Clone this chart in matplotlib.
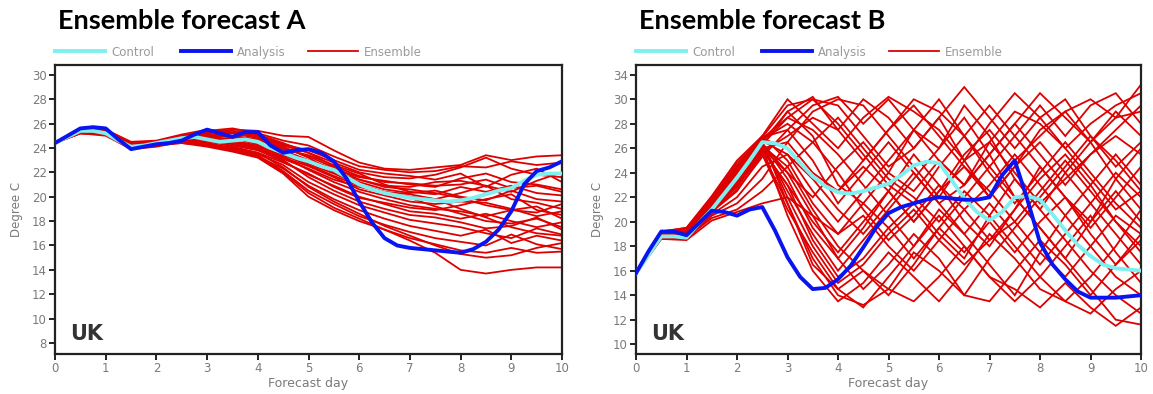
import matplotlib
matplotlib.use("Agg")
import matplotlib.pyplot as plt
import numpy as np

# ---------------- data ----------------
days_fine = [i * 0.25 for i in range(41)]
days_ens = [i * 0.5 for i in range(21)]

analysis_A = [24.4, 25.0, 25.6, 25.7, 25.6, 24.7, 23.9, 24.1, 24.3, 24.4, 24.6, 25.1, 25.5,
              25.2, 24.9, 25.3, 25.3, 24.2, 23.6, 23.8, 23.9, 23.6, 22.9, 21.5, 19.6, 17.9,
              16.6, 16.0, 15.8, 15.7, 15.6, 15.5, 15.4, 15.7, 16.3, 17.3, 18.8, 21.0, 22.1,
              22.4, 22.9]
control_A = [24.4, 24.9, 25.4, 25.4, 25.2, 24.6, 24.1, 24.2, 24.4, 24.6, 24.8, 24.9, 24.7,
             24.5, 24.6, 24.7, 24.5, 24.0, 23.6, 23.2, 22.9, 22.5, 22.2, 21.6, 21.0, 20.6,
             20.3, 20.1, 19.9, 19.8, 19.7, 19.6, 19.7, 19.9, 20.2, 20.5, 20.7, 21.3, 21.8,
             21.9, 21.9]

ens_A_01 = [24.4, 25.3, 25.4, 24.3, 24.4, 24.9, 25.3, 25.5, 25.4, 25.0, 24.9, 23.8, 22.8, 22.3, 22.2, 22.4, 22.6, 23.4, 23.0, 23.3, 23.4]
ens_A_02 = [24.4, 25.4, 25.3, 24.2, 24.5, 25.0, 25.4, 25.6, 25.2, 24.6, 24.2, 23.3, 22.5, 22.2, 22.0, 22.1, 22.5, 22.4, 22.9, 22.6, 22.8]
ens_A_03 = [24.4, 25.2, 25.1, 24.1, 24.3, 24.8, 25.0, 25.2, 24.9, 24.2, 23.6, 22.8, 22.0, 21.6, 21.5, 21.8, 22.4, 23.2, 22.3, 21.8, 21.6]
ens_A_04 = [24.4, 25.3, 25.2, 24.0, 24.2, 24.7, 24.9, 24.7, 24.5, 23.8, 23.0, 22.3, 21.6, 21.3, 21.0, 20.8, 21.5, 21.9, 21.2, 21.0, 20.6]
ens_A_05 = [24.4, 25.5, 25.4, 24.4, 24.5, 24.9, 25.1, 24.9, 24.6, 23.9, 23.4, 22.6, 21.9, 21.0, 20.4, 20.2, 20.8, 20.4, 20.9, 20.3, 20.1]
ens_A_06 = [24.4, 25.3, 25.3, 24.3, 24.4, 24.6, 24.7, 24.8, 24.3, 23.6, 22.9, 22.1, 21.2, 20.6, 20.3, 20.5, 20.0, 19.7, 20.5, 19.8, 19.6]
ens_A_07 = [24.4, 25.4, 25.5, 24.5, 24.6, 25.1, 25.5, 25.2, 24.8, 24.1, 23.2, 22.0, 21.4, 20.8, 20.6, 20.3, 19.9, 19.3, 18.9, 18.7, 19.4]
ens_A_08 = [24.4, 25.2, 25.0, 23.9, 24.1, 24.5, 24.6, 24.4, 24.0, 23.2, 22.5, 21.6, 20.6, 20.1, 19.6, 19.4, 19.6, 19.5, 19.0, 18.4, 18.8]
ens_A_09 = [24.4, 25.3, 25.2, 24.2, 24.3, 24.8, 25.0, 24.6, 24.2, 23.3, 22.2, 21.2, 20.4, 19.8, 19.3, 19.0, 18.8, 18.4, 18.9, 19.2, 18.2]
ens_A_10 = [24.4, 25.5, 25.4, 24.3, 24.4, 24.6, 24.5, 24.2, 23.8, 22.9, 21.8, 20.9, 20.0, 19.4, 18.8, 18.6, 18.2, 18.6, 18.0, 17.5, 17.9]
ens_A_11 = [24.4, 25.4, 25.3, 24.1, 24.3, 24.7, 24.8, 24.5, 24.0, 23.0, 21.6, 20.5, 19.6, 19.0, 18.5, 18.3, 17.9, 17.4, 17.6, 18.3, 17.3]
ens_A_12 = [24.4, 25.3, 25.1, 24.0, 24.2, 24.5, 24.3, 24.0, 23.5, 22.6, 21.2, 20.2, 19.3, 18.7, 18.1, 17.8, 17.5, 17.0, 16.6, 17.4, 16.9]
ens_A_13 = [24.4, 25.2, 25.2, 24.2, 24.3, 24.4, 24.2, 23.8, 23.3, 22.3, 20.9, 19.8, 18.9, 18.2, 17.6, 17.2, 16.8, 17.3, 16.2, 16.8, 16.4]
ens_A_14 = [24.4, 25.4, 25.4, 24.3, 24.4, 24.6, 24.4, 23.9, 23.4, 22.1, 20.5, 19.4, 18.4, 17.7, 17.1, 16.6, 16.3, 16.0, 16.9, 16.1, 15.7]
ens_A_15 = [24.4, 25.3, 25.2, 24.1, 24.2, 24.4, 24.1, 23.7, 23.2, 21.9, 20.0, 18.9, 18.0, 17.3, 16.6, 16.1, 15.6, 15.4, 15.8, 15.4, 15.5]
ens_A_16 = [24.4, 25.4, 25.3, 24.3, 24.4, 24.7, 24.6, 24.1, 23.6, 22.4, 20.8, 19.6, 18.6, 17.6, 16.8, 16.0, 15.3, 15.0, 15.2, 15.8, 16.2]
ens_A_17 = [24.4, 25.3, 25.2, 24.2, 24.3, 24.5, 24.3, 23.8, 23.3, 22.0, 20.3, 19.1, 18.2, 17.3, 16.4, 15.4, 14.0, 13.7, 14.0, 14.2, 14.2]
ens_A_18 = [24.4, 25.4, 25.3, 24.3, 24.5, 24.9, 25.2, 25.3, 25.0, 24.3, 23.8, 23.0, 22.2, 21.9, 21.7, 21.4, 21.9, 20.8, 21.8, 22.3, 21.2]
ens_A_19 = [24.4, 25.3, 25.4, 24.4, 24.5, 24.8, 24.9, 25.0, 24.7, 24.0, 23.3, 22.4, 21.4, 20.9, 20.8, 21.2, 21.3, 20.9, 20.4, 21.3, 22.0]
ens_A_20 = [24.4, 25.2, 25.1, 24.1, 24.3, 24.6, 24.7, 24.3, 23.9, 23.1, 22.3, 21.4, 20.8, 20.3, 20.0, 19.8, 20.3, 20.9, 19.8, 19.5, 19.0]
ens_A_21 = [24.4, 25.3, 25.2, 24.2, 24.3, 24.5, 24.4, 24.0, 23.6, 22.8, 21.9, 20.8, 19.9, 19.5, 19.1, 18.9, 19.3, 19.8, 20.2, 18.9, 18.5]
ens_A_22 = [24.4, 25.4, 25.3, 24.2, 24.4, 24.7, 24.8, 24.6, 24.1, 23.4, 22.6, 21.7, 20.9, 20.4, 19.9, 19.2, 18.6, 18.0, 17.8, 18.2, 17.5]
ens_A_23 = [24.4, 25.3, 25.3, 24.3, 24.4, 24.8, 25.0, 24.9, 24.5, 23.7, 22.7, 21.9, 21.0, 20.4, 20.2, 19.8, 19.0, 18.3, 17.5, 17.0, 16.8]
ens_A_24 = [24.4, 25.5, 25.5, 24.4, 24.5, 24.9, 25.3, 25.4, 25.1, 24.4, 23.6, 22.5, 21.7, 21.2, 21.1, 20.9, 21.0, 21.4, 20.7, 20.9, 20.4]

analysis_B = [15.8, 17.6, 19.2, 19.2, 18.9, 19.9, 20.9, 20.8, 20.5, 21.0, 21.2, 19.3, 17.1,
              15.5, 14.5, 14.6, 15.3, 16.4, 17.9, 19.5, 20.7, 21.2, 21.5, 21.8, 22.0, 21.9,
              21.8, 21.8, 22.0, 23.8, 25.0, 21.8, 18.3, 16.5, 15.3, 14.3, 13.8, 13.8, 13.8,
              13.9, 14.0]
control_B = [15.8, 17.3, 18.8, 18.8, 18.7, 19.9, 21.0, 22.3, 23.6, 25.0, 26.5, 26.4, 26.0,
             24.8, 23.7, 22.9, 22.4, 22.3, 22.5, 22.8, 23.1, 23.8, 24.6, 24.9, 24.8, 23.4,
             21.9, 20.8, 20.1, 20.8, 22.0, 22.1, 21.8, 20.6, 19.3, 18.1, 17.2, 16.5, 16.2,
             16.1, 16.0]

ens_B_01 = [15.8, 19.0, 19.2, 21.5, 24.0, 26.8, 28.5, 30.0, 29.5, 27.0, 24.5, 26.0, 28.5, 25.0, 22.0, 24.5, 27.5, 29.0, 30.0, 28.5, 31.2]
ens_B_02 = [15.8, 18.9, 19.0, 21.2, 23.5, 26.5, 29.0, 27.0, 23.0, 21.5, 24.0, 27.5, 26.0, 29.5, 27.0, 23.5, 21.0, 24.0, 26.5, 29.0, 27.0]
ens_B_03 = [15.8, 19.1, 19.4, 21.8, 24.5, 27.0, 30.0, 28.0, 26.0, 28.5, 30.2, 29.0, 27.5, 25.0, 26.5, 29.0, 28.0, 26.0, 23.5, 21.0, 22.5]
ens_B_04 = [15.8, 18.8, 18.9, 21.0, 23.0, 26.0, 24.0, 20.5, 17.0, 19.5, 22.5, 25.5, 23.0, 20.0, 18.0, 21.0, 24.5, 22.0, 19.0, 16.5, 18.5]
ens_B_05 = [15.8, 19.0, 19.3, 21.4, 23.8, 26.3, 22.5, 19.0, 16.0, 18.5, 21.0, 23.5, 26.0, 28.5, 25.5, 22.0, 19.5, 17.0, 20.0, 23.5, 26.0]
ens_B_06 = [15.8, 18.7, 18.8, 20.8, 22.5, 25.5, 21.0, 17.5, 14.5, 13.0, 15.5, 18.0, 21.0, 19.0, 16.5, 14.0, 17.5, 20.5, 23.0, 20.0, 17.5]
ens_B_07 = [15.8, 19.2, 19.5, 22.0, 24.8, 26.9, 27.5, 25.0, 21.5, 24.0, 26.5, 24.0, 21.5, 23.0, 25.5, 28.0, 25.5, 23.0, 25.5, 27.5, 29.5]
ens_B_08 = [15.8, 18.9, 19.1, 21.3, 23.2, 25.8, 23.0, 18.5, 15.5, 17.0, 19.5, 21.5, 19.0, 17.0, 20.5, 23.5, 21.0, 18.5, 16.0, 14.0, 12.5]
ens_B_09 = [15.8, 19.0, 19.2, 21.6, 24.2, 26.6, 25.5, 22.5, 20.0, 22.5, 25.0, 27.5, 30.0, 27.0, 24.0, 21.5, 24.0, 26.5, 24.0, 21.5, 19.5]
ens_B_10 = [15.8, 18.6, 18.6, 20.5, 21.5, 23.5, 26.5, 29.0, 30.0, 29.5, 27.0, 24.5, 22.0, 25.0, 28.0, 30.5, 28.5, 26.0, 28.0, 29.5, 30.5]
ens_B_11 = [15.8, 18.8, 19.0, 21.1, 23.0, 26.1, 20.5, 16.0, 13.5, 15.0, 17.5, 15.5, 13.5, 16.0, 19.0, 17.0, 14.5, 13.5, 15.5, 18.0, 21.0]
ens_B_12 = [15.8, 19.1, 19.3, 21.7, 24.4, 26.7, 28.0, 26.5, 24.0, 21.0, 18.5, 20.5, 23.0, 21.0, 18.5, 20.0, 22.5, 25.0, 22.5, 20.0, 18.0]
ens_B_13 = [15.8, 18.9, 19.1, 21.2, 23.3, 26.2, 24.5, 21.0, 18.0, 16.0, 14.0, 16.5, 19.5, 22.0, 24.5, 22.0, 19.5, 17.0, 14.5, 12.0, 11.6]
ens_B_14 = [15.8, 19.0, 19.4, 21.9, 24.6, 26.9, 29.5, 30.0, 28.0, 25.5, 23.0, 21.5, 24.5, 27.0, 29.5, 27.0, 24.5, 22.0, 19.5, 22.0, 24.5]
ens_B_15 = [15.8, 18.7, 18.8, 20.6, 22.0, 24.5, 25.5, 23.5, 21.0, 19.0, 21.5, 24.0, 21.5, 19.0, 21.5, 19.0, 16.5, 19.0, 21.5, 24.0, 22.0]
ens_B_16 = [15.8, 19.0, 19.2, 21.5, 23.7, 26.4, 23.5, 19.5, 17.0, 14.5, 16.5, 19.0, 17.0, 14.0, 13.5, 16.0, 18.5, 16.5, 14.0, 16.5, 19.0]
ens_B_17 = [15.8, 18.8, 19.0, 21.0, 22.8, 25.7, 27.0, 28.5, 27.5, 30.0, 28.5, 26.0, 28.5, 31.0, 28.5, 26.0, 28.5, 30.0, 27.0, 24.5, 26.5]
ens_B_18 = [15.8, 19.1, 19.3, 21.6, 24.1, 26.5, 22.0, 18.0, 15.0, 16.5, 19.0, 21.0, 18.5, 16.5, 18.5, 21.0, 23.5, 25.5, 23.0, 25.5, 23.0]
ens_B_19 = [15.8, 18.9, 19.1, 21.3, 23.4, 26.0, 26.5, 24.0, 22.5, 24.5, 22.5, 20.0, 22.5, 24.5, 22.0, 24.5, 26.5, 24.0, 21.5, 19.0, 16.5]
ens_B_20 = [15.8, 19.0, 19.3, 21.6, 24.0, 26.6, 21.5, 17.0, 14.0, 13.2, 14.5, 17.5, 16.0, 14.0, 17.0, 19.5, 22.0, 24.5, 27.0, 25.0, 22.5]
ens_B_21 = [15.8, 18.8, 18.9, 20.9, 22.6, 25.3, 27.5, 29.5, 30.2, 28.0, 30.0, 27.5, 25.0, 23.0, 25.5, 28.0, 30.5, 28.5, 26.5, 28.5, 29.0]
ens_B_22 = [15.8, 19.2, 19.5, 22.1, 25.0, 27.0, 25.0, 21.5, 19.0, 20.5, 18.0, 16.0, 18.5, 21.0, 23.0, 25.5, 23.0, 20.5, 18.0, 15.5, 14.0]
ens_B_23 = [15.8, 18.7, 18.7, 20.3, 21.0, 22.5, 24.5, 26.5, 28.5, 26.0, 23.5, 22.0, 20.0, 22.5, 20.5, 18.0, 15.5, 13.5, 12.5, 14.5, 16.0]
ens_B_24 = [15.8, 19.0, 19.2, 21.4, 23.6, 26.3, 28.5, 27.5, 25.5, 23.0, 20.5, 18.0, 20.5, 18.0, 15.5, 13.5, 15.5, 18.0, 20.5, 17.5, 15.0]
ens_B_25 = [15.8, 18.9, 19.0, 21.2, 23.1, 25.9, 23.0, 20.0, 17.5, 20.0, 22.5, 20.0, 22.5, 25.5, 27.5, 25.0, 27.0, 29.0, 26.5, 23.5, 21.0]
ens_B_26 = [15.8, 19.1, 19.4, 21.8, 24.3, 26.8, 26.0, 23.5, 22.5, 25.0, 27.5, 29.5, 27.0, 24.5, 22.5, 20.0, 17.5, 15.5, 18.0, 20.5, 19.0]
ens_B_27 = [15.8, 18.8, 19.0, 21.0, 22.9, 25.6, 21.5, 16.5, 14.5, 16.0, 14.5, 13.5, 15.5, 18.0, 15.5, 14.5, 13.0, 15.0, 13.0, 11.5, 13.0]
ens_B_28 = [15.8, 19.0, 19.1, 21.5, 23.9, 26.4, 24.0, 22.0, 24.5, 26.5, 24.0, 22.5, 25.0, 23.0, 26.5, 24.0, 21.5, 23.5, 25.5, 27.0, 25.5]
ens_B_29 = [15.8, 18.9, 19.2, 21.3, 23.5, 26.2, 29.0, 30.2, 27.5, 25.0, 27.5, 30.0, 29.0, 27.0, 24.5, 27.0, 29.5, 27.0, 29.5, 30.5, 28.0]
ens_B_30 = [15.8, 18.6, 18.5, 20.1, 20.8, 21.5, 22.0, 20.5, 19.0, 21.5, 19.5, 17.0, 19.5, 17.5, 20.0, 17.5, 20.0, 22.0, 20.0, 22.5, 20.0]

ensemble_A = [ens_A_01, ens_A_02, ens_A_03, ens_A_04, ens_A_05, ens_A_06, ens_A_07, ens_A_08,
              ens_A_09, ens_A_10, ens_A_11, ens_A_12, ens_A_13, ens_A_14, ens_A_15, ens_A_16,
              ens_A_17, ens_A_18, ens_A_19, ens_A_20, ens_A_21, ens_A_22, ens_A_23, ens_A_24]
ensemble_B = [ens_B_01, ens_B_02, ens_B_03, ens_B_04, ens_B_05, ens_B_06, ens_B_07, ens_B_08,
              ens_B_09, ens_B_10, ens_B_11, ens_B_12, ens_B_13, ens_B_14, ens_B_15, ens_B_16,
              ens_B_17, ens_B_18, ens_B_19, ens_B_20, ens_B_21, ens_B_22, ens_B_23, ens_B_24,
              ens_B_25, ens_B_26, ens_B_27, ens_B_28, ens_B_29, ens_B_30]

titles = ["Ensemble forecast A", "Ensemble forecast B"]
legend_labels = ["Control", "Analysis", "Ensemble"]
x_ticks = list(range(0, 11))
yticks_A = list(range(8, 31, 2))
ylabels_A = [str(v) for v in yticks_A]
yticks_B = list(range(10, 33, 2))
ylabels_B = ["10", "12", "14", "16", "18", "20", "22", "24", "26", "28", "30", "34"]
region_label = "UK"

# ---------------- style ----------------
W, H = 1153, 394
fig = plt.figure(figsize=(W / 100, H / 100), dpi=100)
fig.patch.set_facecolor("white")

RED = "#dd0000"
BLUE = "#0a14f0"
CYAN = "#7ff0f0"
GRAY = "#7a7a7a"
LGRAY = "#9a9a9a"

panels = [
    dict(rect=(55, 65, 562, 354), ylim=(7.1, 30.8), yt=yticks_A, yl=ylabels_A,
         ens=ensemble_A, ana=analysis_A, ctl=control_A, title=titles[0]),
    dict(rect=(636, 65, 1141, 354), ylim=(9.2, 32.8), yt=yticks_B, yl=ylabels_B,
         ens=ensemble_B, ana=analysis_B, ctl=control_B, title=titles[1]),
]

for p in panels:
    x0, y0, x1, y1 = p["rect"]
    ax = fig.add_axes([x0 / W, 1 - y1 / H, (x1 - x0) / W, (y1 - y0) / H])
    for m in p["ens"]:
        ax.plot(days_ens, m, color=RED, lw=1.3, solid_joinstyle="miter", zorder=2)
    ax.plot(days_fine, p["ctl"], color=CYAN, lw=2.8, zorder=3)
    ax.plot(days_fine, p["ana"], color=BLUE, lw=2.8, zorder=4)
    ax.set_xlim(0, 10)
    ax.set_ylim(*p["ylim"])
    ax.set_xticks(x_ticks)
    ax.set_xticklabels([str(v) for v in x_ticks])
    ax.set_yticks(p["yt"])
    ax.set_yticklabels(p["yl"])
    for s in ax.spines.values():
        s.set_color("#222222")
        s.set_linewidth(1.6)
    ax.tick_params(axis="both", direction="out", length=4, width=1.4, color="#222222",
                   labelcolor=GRAY, labelsize=8.5, pad=2)
    ax.set_xlabel("Forecast day", color=GRAY, fontsize=9, labelpad=1)
    ax.set_ylabel("Degree C", color=GRAY, fontsize=8.5, labelpad=6)
    ax.text(0.03, 0.07, region_label, transform=ax.transAxes, fontsize=15,
            fontweight="bold", color="#333333", ha="left", va="center")

    # title
    fig.text((x0 + 3) / W, 1 - 21 / H, p["title"], fontsize=19.5, fontweight="bold",
             family="Lato", color="black", ha="left", va="center")

    # legend
    ly = 1 - 51 / H
    items = [(CYAN, 2.8, 0), (BLUE, 2.8, 126), (RED, 1.3, 253)]
    for (col, lw, dx), lab in zip(items, legend_labels):
        lx = x0 + dx
        fig.add_artist(plt.Line2D([lx / W, (lx + 50) / W], [ly, ly], color=col, lw=lw,
                                  transform=fig.transFigure))
        fig.text((lx + 56) / W, ly, lab, fontsize=8.5, color=LGRAY, ha="left",
                 va="center_baseline")

fig.savefig("out.png", dpi=100, facecolor="white")
